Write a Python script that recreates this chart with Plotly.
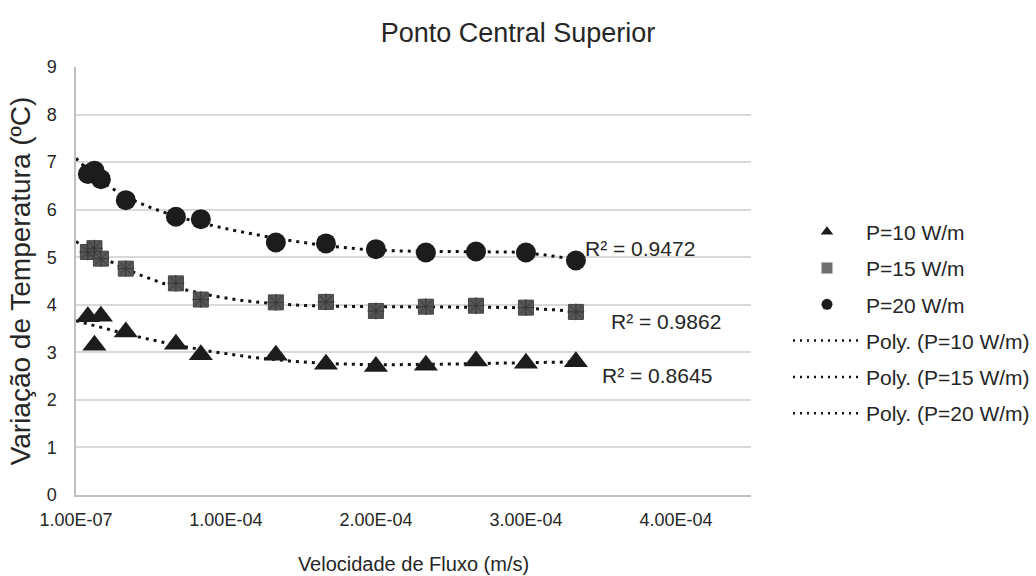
import numpy as np
import plotly.graph_objects as go

# ---- data ----
velocidade = [8.0e-6, 1.24e-5, 1.67e-5, 3.33e-5, 6.67e-5, 8.33e-5, 1.333e-4,
              1.667e-4, 2.0e-4, 2.333e-4, 2.667e-4, 3.0e-4, 3.333e-4]
p10 = [3.75, 3.15, 3.76, 3.43, 3.17, 2.95, 2.94, 2.75, 2.70, 2.73, 2.82, 2.77, 2.80]
p15 = [5.11, 5.19, 4.97, 4.76, 4.45, 4.11, 4.05, 4.06, 3.87, 3.96, 3.98, 3.94, 3.85]
p20 = [6.75, 6.82, 6.64, 6.20, 5.85, 5.80, 5.31, 5.29, 5.17, 5.10, 5.12, 5.10, 4.93]

series_names = ["P=10 W/m", "P=15 W/m", "P=20 W/m"]
r2_labels = ["R² = 0.8645", "R² = 0.9862", "R² = 0.9472"]
poly_orders = [4, 4, 6]

x_tickvals = [1e-7, 1e-4, 2e-4, 3e-4, 4e-4]
x_ticktext = ["1.00E-07", "1.00E-04", "2.00E-04", "3.00E-04", "4.00E-04"]
y_tickvals = [0, 1, 2, 3, 4, 5, 6, 7, 8, 9]

FONT = "Liberation Sans, Arial, sans-serif"
TXT = "#262626"

fig = go.Figure()

x = np.array(velocidade)
xs = x / 1e-4
x_trend = np.linspace(1e-7, x.max(), 300)

# trendlines (polynomial fit of each series)
for name, ys, order in zip(series_names, [p10, p15, p20], poly_orders):
    coefs = np.polyfit(xs, np.array(ys), order)
    fig.add_trace(go.Scatter(
        x=x_trend, y=np.polyval(coefs, x_trend / 1e-4), mode="lines",
        line=dict(color="#111111", width=3, dash="3px,5px"),
        showlegend=False, hoverinfo="skip"))

# markers
fig.add_trace(go.Scatter(x=velocidade, y=p10, mode="markers", showlegend=False,
                         marker=dict(symbol="triangle-up", size=21, color="#1c1c1c")))
fig.add_trace(go.Scatter(x=velocidade, y=p15, mode="markers", showlegend=False,
                         marker=dict(symbol="square", size=15, color="#575757",
                                     line=dict(color="#444444", width=1))))
fig.add_trace(go.Scatter(x=velocidade, y=p15, mode="markers", showlegend=False,
                         hoverinfo="skip",
                         marker=dict(symbol="asterisk-open", size=14, color="#383838",
                                     line=dict(color="#383838", width=1))))
fig.add_trace(go.Scatter(x=velocidade, y=p20, mode="markers", showlegend=False,
                         marker=dict(symbol="circle", size=20, color="#1c1c1c")))

# legend entries
leg_markers = [("triangle-up", "#1c1c1c"), ("square", "#6f6f6f"), ("circle", "#1c1c1c")]
for i, (name, (sym, col)) in enumerate(zip(series_names, leg_markers)):
    fig.add_trace(go.Scatter(x=[None], y=[None], mode="markers", name=name,
                             legendgroup="g%d" % i,
                             marker=dict(symbol=sym, size=11, color=col)))
for i, name in enumerate(series_names):
    fig.add_trace(go.Scatter(x=[None], y=[None], mode="lines",
                             name="Poly. (%s)" % name, legendgroup="h%d" % i,
                             line=dict(color="#111111", width=2.5, dash="2px,5px")))

# R² labels
r2_pos = [(0.776, 0.280), (0.790, 0.405), (0.751, 0.5748)]
for lab, (ax, ay) in zip(r2_labels, r2_pos):
    fig.add_annotation(text=lab, xref="paper", yref="paper", x=ax, y=ay,
                       xanchor="left", yanchor="middle",
                       showarrow=False, font=dict(size=21, color=TXT, family=FONT))

fig.update_layout(
    width=1036, height=576,
    margin=dict(l=76, r=285, t=67, b=81),
    paper_bgcolor="white", plot_bgcolor="white",
    font=dict(family=FONT, color=TXT, size=18),
    title=dict(text="Ponto Central Superior", x=0.5, xanchor="center",
               y=0.944, yanchor="middle", font=dict(size=27, color=TXT)),
    legend=dict(xref="container", yref="container", x=0.7606, xanchor="left",
                y=0.44, yanchor="middle",
                font=dict(size=21, color=TXT), tracegroupgap=6, itemwidth=68,
                bgcolor="rgba(0,0,0,0)"),
    xaxis=dict(range=[1e-7, 4.5e-4], tickvals=x_tickvals, ticktext=x_ticktext,
               showgrid=False, zeroline=False, showline=True,
               linecolor="#bfbfbf", linewidth=1.5, ticks="",
               ticklabelstandoff=8, automargin=False,
               tickfont=dict(size=18, color=TXT),
               title=dict(text="Velocidade de Fluxo (m/s)", font=dict(size=20, color=TXT),
                          standoff=28)),
    yaxis=dict(range=[0, 9], tickvals=y_tickvals, showgrid=True,
               gridcolor="#d9d9d9", gridwidth=1.5, zeroline=False,
               showline=True, linecolor="#bfbfbf", linewidth=1.5, ticks="",
               ticklabelstandoff=14, automargin=False,
               tickfont=dict(size=18, color=TXT),
               title=dict(text="Variação de Temperatura (ºC)",
                          font=dict(size=28, color=TXT), standoff=8)),
)

fig.write_html("out.html")
